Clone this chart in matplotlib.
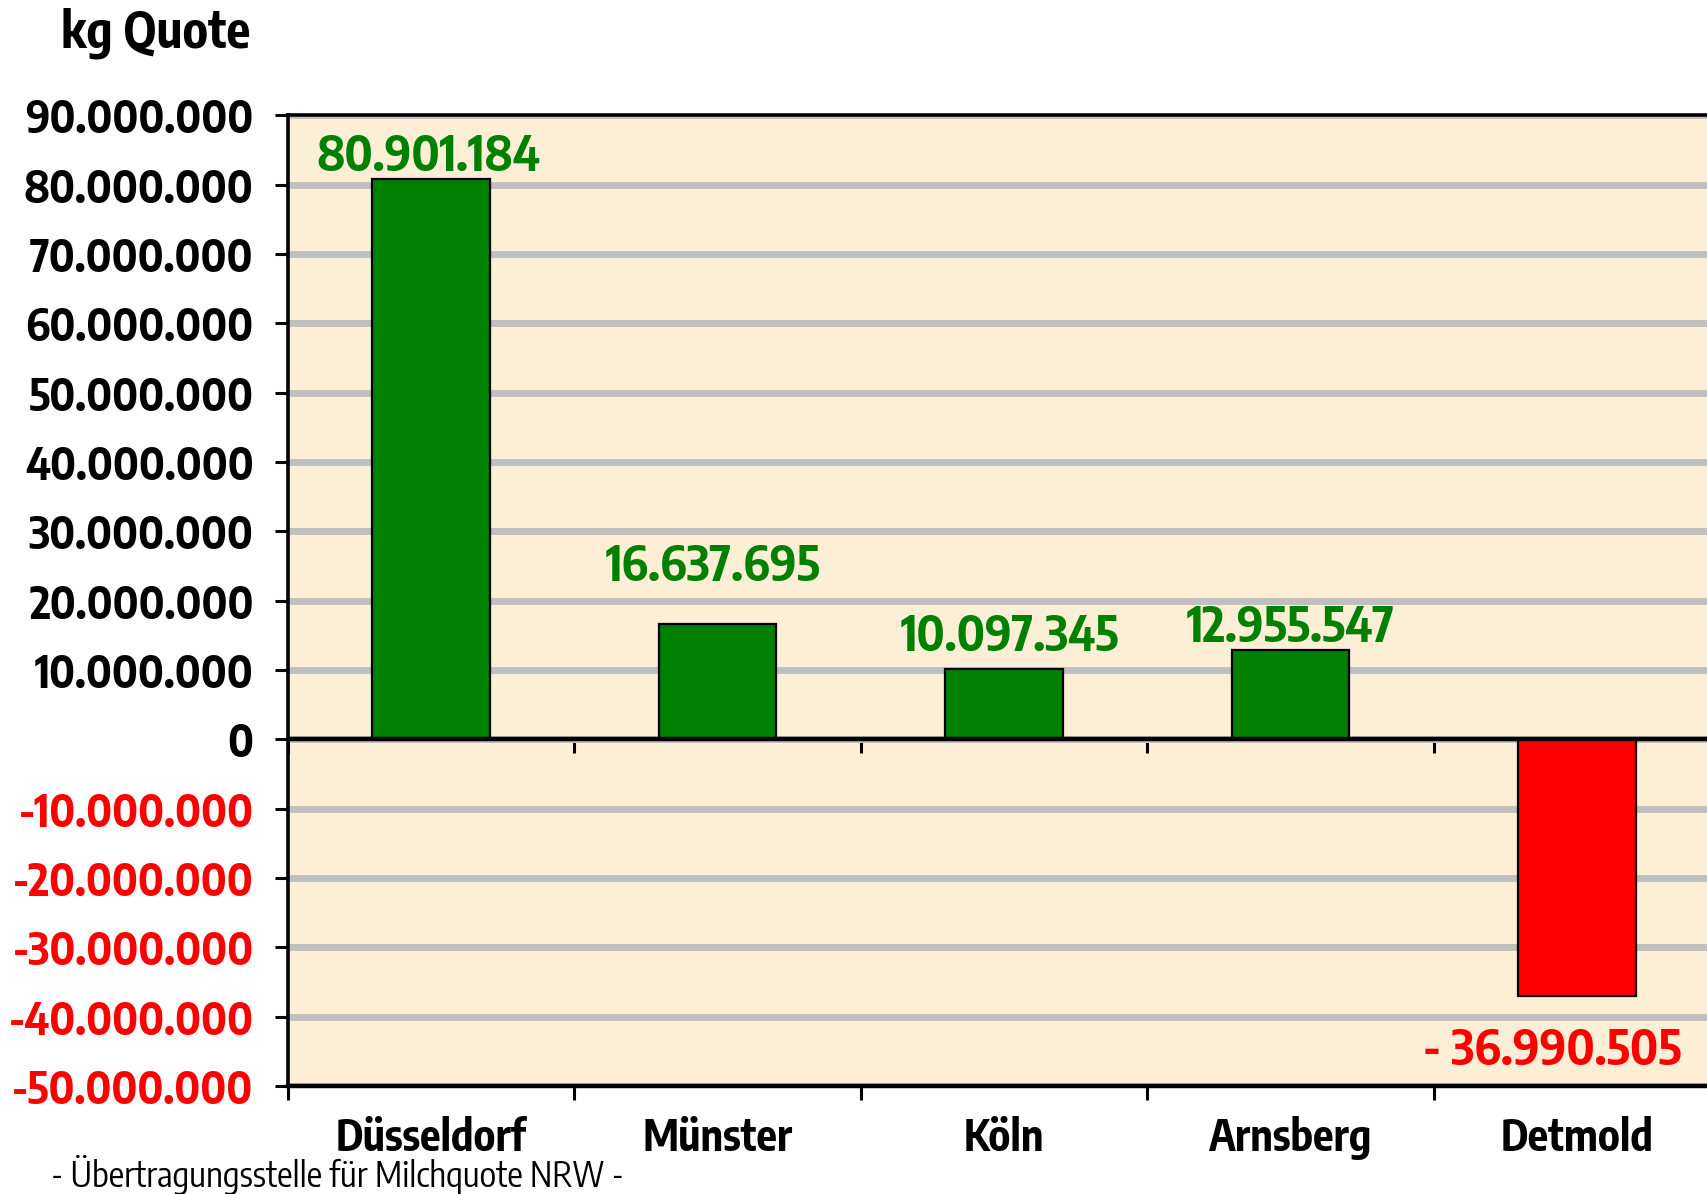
import matplotlib
matplotlib.use('Agg')
import matplotlib.pyplot as plt

# === Daten ===
bezirke = ['Düsseldorf', 'Münster', 'Köln', 'Arnsberg', 'Detmold']
saldo_kg = [80901184, 16637695, 10097345, 12955547, -36990505]
y_ticks = list(range(-50000000, 90000001, 10000000))

# Lage der Werte-Beschriftung (x in Kategorien, y in kg), wie im Original von Hand gesetzt
label_dx = [-0.01, -0.015, 0.02, 0.0, -0.085]
label_dy = [3100000, 8200000, 4700000, 3050000, -7900000]

GREEN = '#008000'
RED = '#ff0000'
NARROW = ['Encode Sans Condensed', 'DejaVu Sans']


def fmt(v, space=False):
    s = f'{abs(v):,}'.replace(',', '.')
    if v < 0:
        return ('- ' if space else '-') + s
    return s


def main():
    fig = plt.figure(figsize=(17.08, 11.94), dpi=100)
    ax = fig.add_axes([0.1684, 0.0905, 0.8387, 0.8128])
    ax.set_facecolor('#fcefd6')

    x = list(range(len(bezirke)))
    colors = [GREEN if v >= 0 else RED for v in saldo_kg]
    ax.bar(x, saldo_kg, width=0.41, color=colors, edgecolor='black',
           linewidth=1.6, zorder=3)

    ax.set_xlim(-0.5, len(bezirke) - 0.5)
    ax.set_ylim(y_ticks[0], y_ticks[-1])

    # === y-Achse ===
    ax.set_yticks(y_ticks)
    ax.set_yticklabels([fmt(t) for t in y_ticks])
    for lab, t in zip(ax.get_yticklabels(), y_ticks):
        lab.set_color(RED if t < 0 else 'black')
        lab.set_fontfamily(NARROW)
        lab.set_fontweight('bold')
        lab.set_fontsize(32)
    ax.tick_params(axis='y', direction='out', length=9.5, width=2.2, pad=15)
    ax.yaxis.grid(True, color='#c0c0c0', linewidth=5, zorder=1)
    ax.set_axisbelow(True)

    # === x-Achse: Striche an den Grenzen, Namen in der Mitte ===
    bounds = [i - 0.5 for i in range(len(bezirke) + 1)]
    ax.set_xticks(bounds)
    ax.set_xticklabels([''] * len(bounds))
    ax.set_xticks(x, minor=True)
    ax.set_xticklabels(bezirke, minor=True, fontfamily=NARROW,
                       fontweight='bold', fontsize=31)
    ax.tick_params(axis='x', which='major', direction='out', length=10, width=2.2)
    ax.tick_params(axis='x', which='minor', length=0, pad=22)

    # Nulllinie mit eigenen Strichen
    ax.axhline(0, color='black', linewidth=3.2, zorder=3.5)
    sec = ax.secondary_xaxis(0, transform=ax.transData)
    sec.set_xticks(bounds)
    sec.set_xticklabels([''] * len(bounds))
    sec.tick_params(axis='x', direction='out', length=10, width=2.2)

    for side in ['left', 'top', 'bottom']:
        ax.spines[side].set_linewidth(2.6)
    ax.spines['bottom'].set_linewidth(3.2)
    ax.spines['right'].set_visible(False)

    # === Werte an den Balken ===
    for i, v in enumerate(saldo_kg):
        ax.text(i + label_dx[i], v + label_dy[i], fmt(v, space=True),
                ha='center', va='center', color=GREEN if v >= 0 else RED,
                fontfamily=NARROW, fontweight='bold', fontsize=35, zorder=4)

    fig.text(0.0913, 0.972, 'kg Quote', ha='center', va='center',
             fontfamily=NARROW, fontweight='bold', fontsize=36)
    fig.text(0.030, 0.016, '- Übertragungsstelle für Milchquote NRW -',
             ha='left', va='center', fontfamily=NARROW, fontsize=25)

    fig.savefig('out.png', dpi=100)
    plt.close(fig)


if __name__ == '__main__':
    main()
